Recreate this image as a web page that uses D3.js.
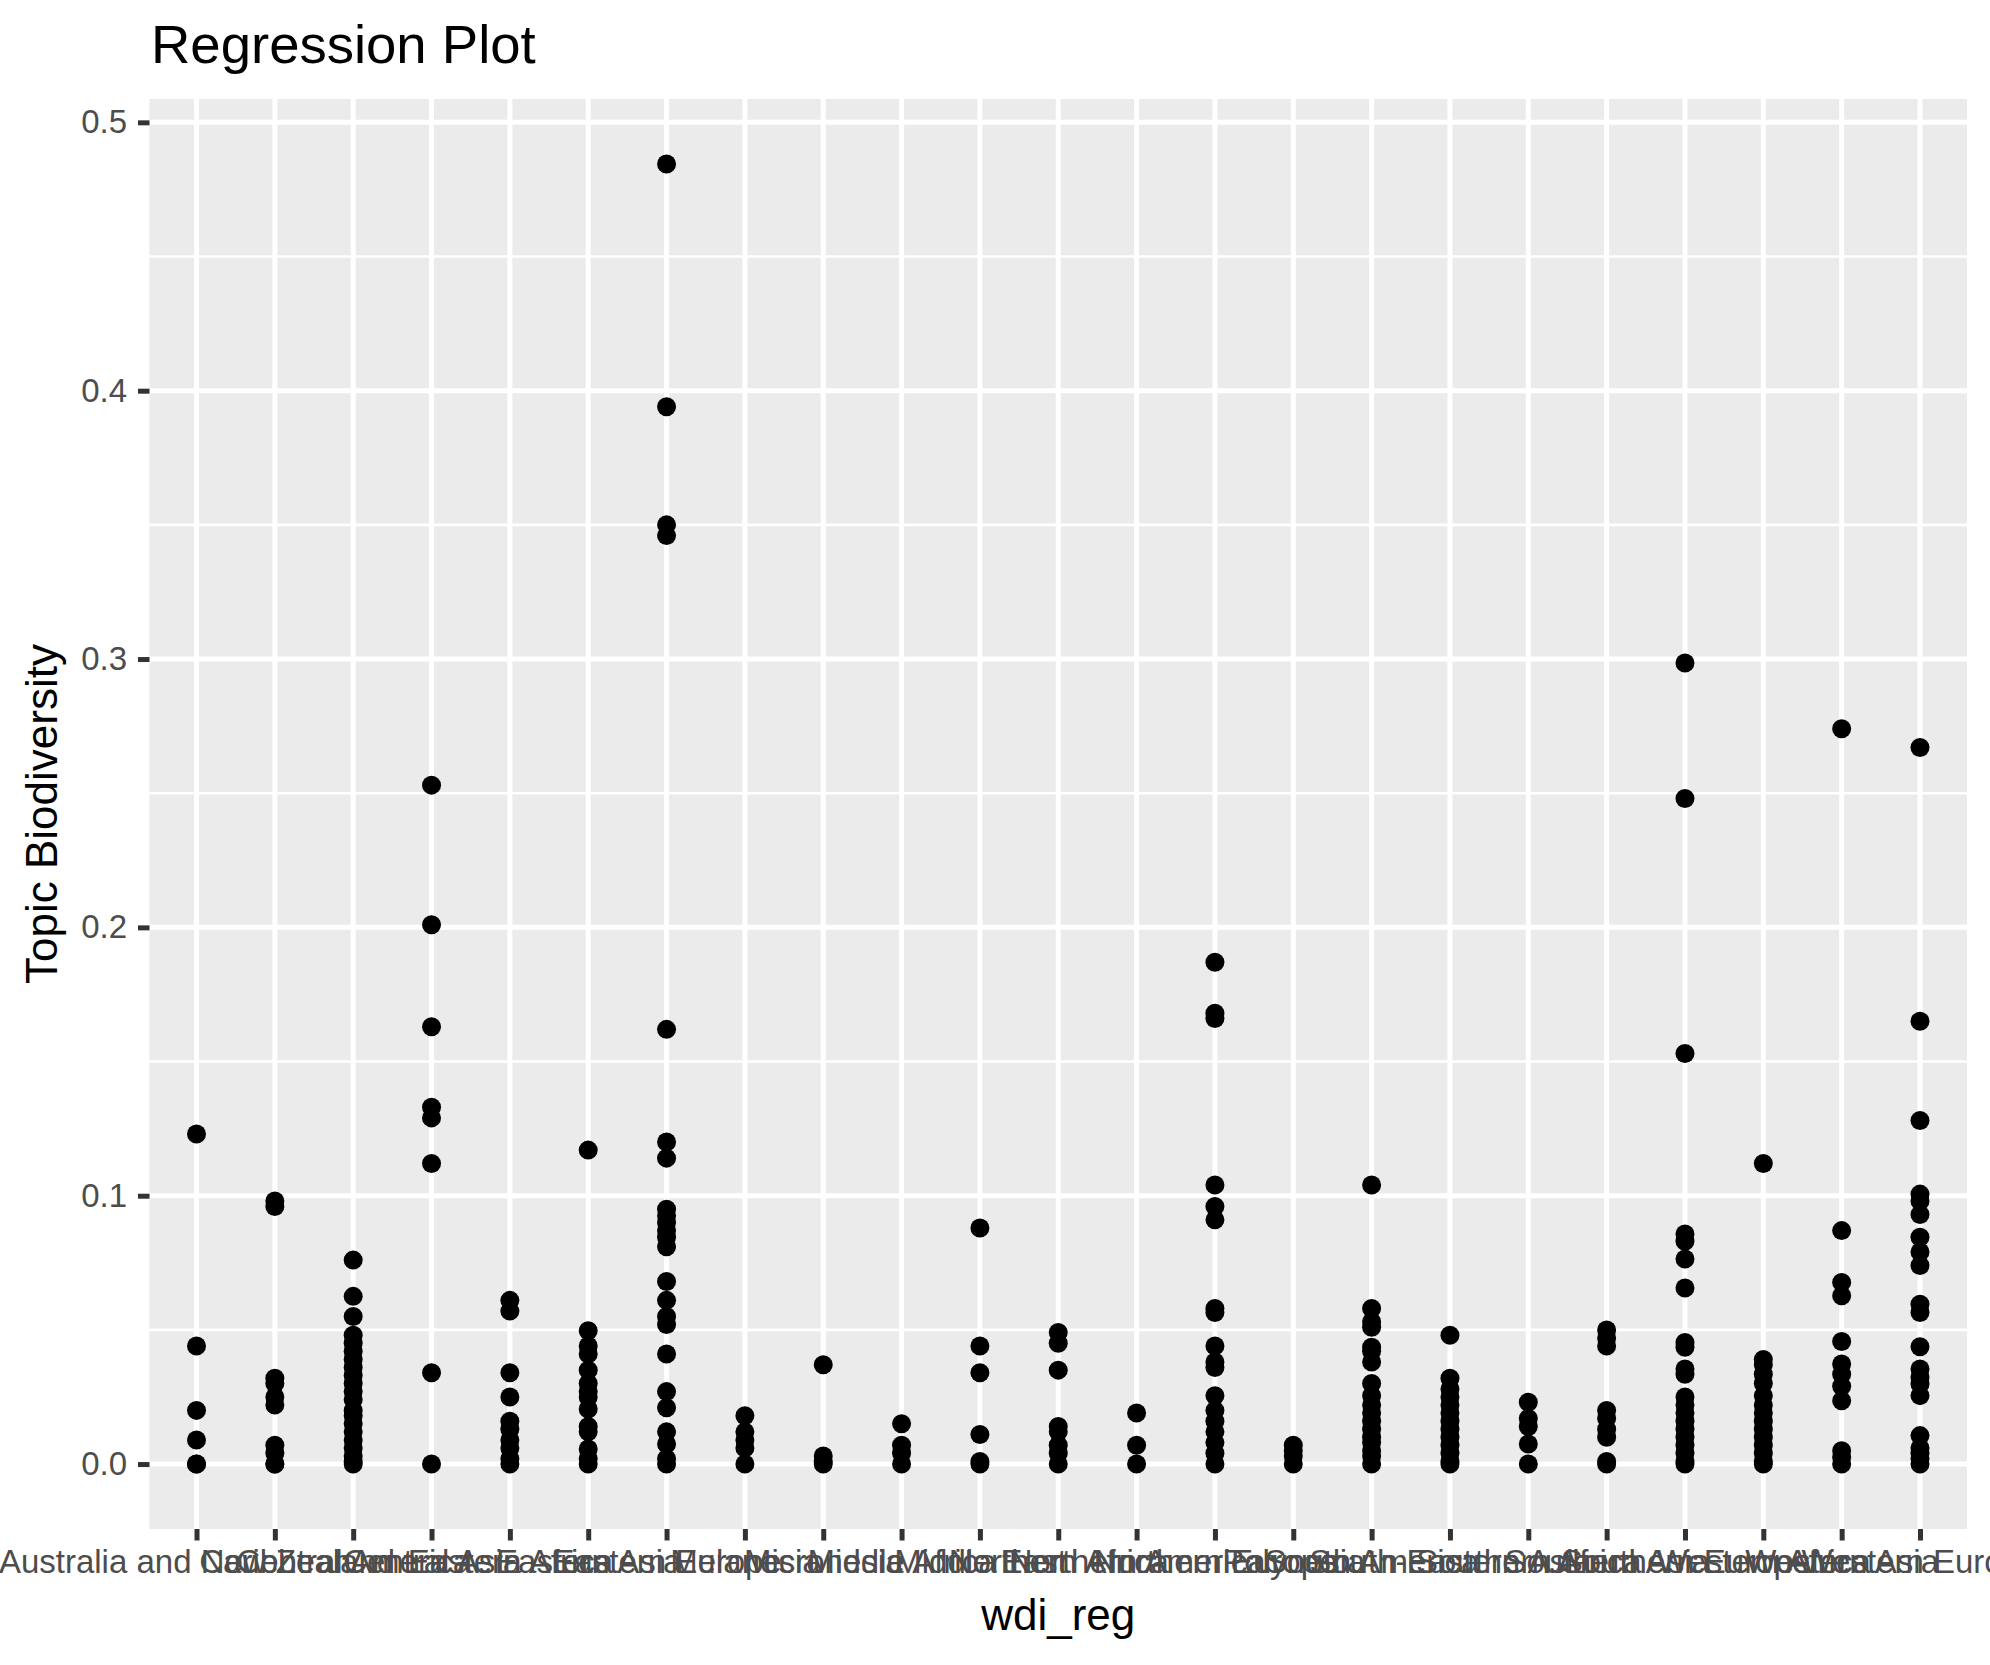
<!DOCTYPE html>
<html>
<head>
<meta charset="utf-8">
<script src="https://cdn.jsdelivr.net/npm/d3@7"></script>
<style>
  html, body { margin: 0; padding: 0; background: #ffffff; }
  svg { display: block; font-family: "Liberation Sans", Arial, Helvetica, sans-serif; }
</style>
</head>
<body>
<svg id="chart" width="1990" height="1665"></svg>
<script>
// ---------------- data ----------------
const chartTitle = "Regression Plot";
const xTitle = "wdi_reg";
const yTitle = "Topic Biodiversity";

const categories = [
  "Australia and New Zealand", "Caribbean", "Central America", "Central Asia",
  "Eastern Africa", "Eastern Asia", "Eastern Europe", "Melanesia", "Micronesia",
  "Middle Africa", "Middle East", "Northern Africa", "Northern America", "Northern Europe",
  "Polynesia", "South America", "South-Eastern Asia", "Southern Africa", "Southern Asia",
  "Southern Europe", "Western Africa", "Western Asia", "Western Europe"
];

const yTicks = [0.0, 0.1, 0.2, 0.3, 0.4, 0.5];
const yMinorTicks = [0.05, 0.15, 0.25, 0.35, 0.45];

// topic biodiversity values per region (same order as categories)
const regionValues = [
  [0.123, 0.044, 0.020, 0.009, 0.0, 0.0],
  [0.098, 0.096, 0.032, 0.030, 0.025, 0.022, 0.007, 0.004, 0.0, 0.0],
  [0.076, 0.0625, 0.055, 0.048, 0.045, 0.042, 0.039, 0.036, 0.033, 0.030, 0.027, 0.024, 0.020, 0.018, 0.015, 0.012, 0.009, 0.006, 0.003, 0.001, 0.0],
  [0.253, 0.201, 0.163, 0.133, 0.129, 0.112, 0.034, 0.0],
  [0.061, 0.057, 0.034, 0.025, 0.016, 0.013, 0.009, 0.006, 0.002, 0.0],
  [0.117, 0.0497, 0.044, 0.041, 0.035, 0.030, 0.027, 0.025, 0.0205, 0.014, 0.012, 0.0056, 0.002, 0.0],
  [0.4845, 0.394, 0.350, 0.346, 0.162, 0.120, 0.114, 0.095, 0.0925, 0.090, 0.087, 0.0845, 0.081, 0.068, 0.061, 0.055, 0.052, 0.041, 0.027, 0.021, 0.012, 0.0075, 0.002, 0.0],
  [0.018, 0.012, 0.009, 0.006, 0.0],
  [0.037, 0.003, 0.001, 0.0],
  [0.015, 0.007, 0.004, 0.0],
  [0.088, 0.044, 0.034, 0.011, 0.001, 0.0],
  [0.049, 0.045, 0.035, 0.014, 0.012, 0.007, 0.004, 0.0],
  [0.019, 0.007, 0.0],
  [0.187, 0.168, 0.166, 0.104, 0.096, 0.091, 0.058, 0.0565, 0.044, 0.038, 0.036, 0.0255, 0.020, 0.016, 0.012, 0.008, 0.004, 0.0],
  [0.007, 0.005, 0.003, 0.0],
  [0.104, 0.058, 0.053, 0.051, 0.0435, 0.042, 0.038, 0.030, 0.0255, 0.022, 0.019, 0.016, 0.013, 0.010, 0.008, 0.005, 0.003, 0.0],
  [0.048, 0.032, 0.028, 0.025, 0.022, 0.019, 0.016, 0.013, 0.010, 0.007, 0.004, 0.001, 0.0],
  [0.023, 0.017, 0.014, 0.0075, 0.0],
  [0.050, 0.047, 0.044, 0.020, 0.017, 0.013, 0.010, 0.001, 0.0],
  [0.2985, 0.248, 0.153, 0.0857, 0.083, 0.0764, 0.0656, 0.0453, 0.0435, 0.0354, 0.0335, 0.025, 0.022, 0.019, 0.016, 0.013, 0.010, 0.007, 0.004, 0.001, 0.0],
  [0.112, 0.039, 0.037, 0.0335, 0.030, 0.0255, 0.022, 0.019, 0.016, 0.013, 0.010, 0.007, 0.004, 0.001, 0.0],
  [0.274, 0.087, 0.0677, 0.0627, 0.0457, 0.0373, 0.0335, 0.029, 0.0236, 0.005, 0.0025, 0.0],
  [0.267, 0.165, 0.128, 0.1006, 0.098, 0.093, 0.0845, 0.079, 0.074, 0.0596, 0.0565, 0.0437, 0.0354, 0.0323, 0.0298, 0.0255, 0.0106, 0.006, 0.004, 0.002, 0.0]
];

// ---------------- layout ----------------
const panel = { left: 149.5, right: 1967, top: 99, bottom: 1529 };
const svg = d3.select("#chart");

const x = d3.scalePoint()
  .domain(categories)
  .range([panel.left, panel.right])
  .padding(0.6);

const y = d3.scaleLinear()
  .domain([-0.0242, 0.5087])
  .range([panel.bottom, panel.top]);

const points = [];
categories.forEach((c, i) => {
  regionValues[i].forEach(v => points.push({ region: c, value: v }));
});

// panel background
svg.append("rect")
  .attr("x", panel.left).attr("y", panel.top)
  .attr("width", panel.right - panel.left)
  .attr("height", panel.bottom - panel.top)
  .attr("fill", "#EBEBEB");

const grid = svg.append("g");
grid.selectAll("line.minor").data(yMinorTicks).enter().append("line")
  .attr("x1", panel.left).attr("x2", panel.right)
  .attr("y1", d => y(d)).attr("y2", d => y(d))
  .attr("stroke", "#ffffff").attr("stroke-width", 2.6);
grid.selectAll("line.majy").data(yTicks).enter().append("line")
  .attr("x1", panel.left).attr("x2", panel.right)
  .attr("y1", d => y(d)).attr("y2", d => y(d))
  .attr("stroke", "#ffffff").attr("stroke-width", 5);
grid.selectAll("line.majx").data(categories).enter().append("line")
  .attr("y1", panel.top).attr("y2", panel.bottom)
  .attr("x1", d => x(d)).attr("x2", d => x(d))
  .attr("stroke", "#ffffff").attr("stroke-width", 5);

// points
svg.append("g").selectAll("circle").data(points).enter().append("circle")
  .attr("cx", d => x(d.region))
  .attr("cy", d => y(d.value))
  .attr("r", 9.5)
  .attr("fill", "#000000");

// y axis
const yAxis = d3.axisLeft(y)
  .tickValues(yTicks)
  .tickFormat(d3.format(".1f"))
  .tickSizeInner(11.5)
  .tickSizeOuter(0)
  .tickPadding(11);
const gy = svg.append("g").attr("transform", `translate(${panel.left},0)`).call(yAxis);
gy.select(".domain").remove();
gy.selectAll(".tick line").attr("stroke", "#333333").attr("stroke-width", 5);
gy.selectAll(".tick text")
  .attr("fill", "#4D4D4D")
  .attr("font-size", 33)
  .attr("font-family", "'Liberation Sans', Arial, sans-serif");

// x axis
const xAxis = d3.axisBottom(x)
  .tickSizeInner(11.5)
  .tickSizeOuter(0)
  .tickPadding(9);
const gx = svg.append("g").attr("transform", `translate(0,${panel.bottom})`).call(xAxis);
gx.select(".domain").remove();
gx.selectAll(".tick line").attr("stroke", "#333333").attr("stroke-width", 5);
gx.selectAll(".tick text")
  .attr("fill", "#4D4D4D")
  .attr("font-size", 33)
  .attr("font-family", "'Liberation Sans', Arial, sans-serif");

// titles
svg.append("text")
  .attr("x", 151).attr("y", 63)
  .attr("font-size", 54.5)
  .attr("fill", "#000000")
  .text(chartTitle);

svg.append("text")
  .attr("x", (panel.left + panel.right) / 2)
  .attr("y", 1630)
  .attr("text-anchor", "middle")
  .attr("font-size", 44)
  .attr("fill", "#000000")
  .text(xTitle);

svg.append("text")
  .attr("transform", `translate(57,${(panel.top + panel.bottom) / 2}) rotate(-90)`)
  .attr("text-anchor", "middle")
  .attr("font-size", 44)
  .attr("fill", "#000000")
  .text(yTitle);
</script>
</body>
</html>
